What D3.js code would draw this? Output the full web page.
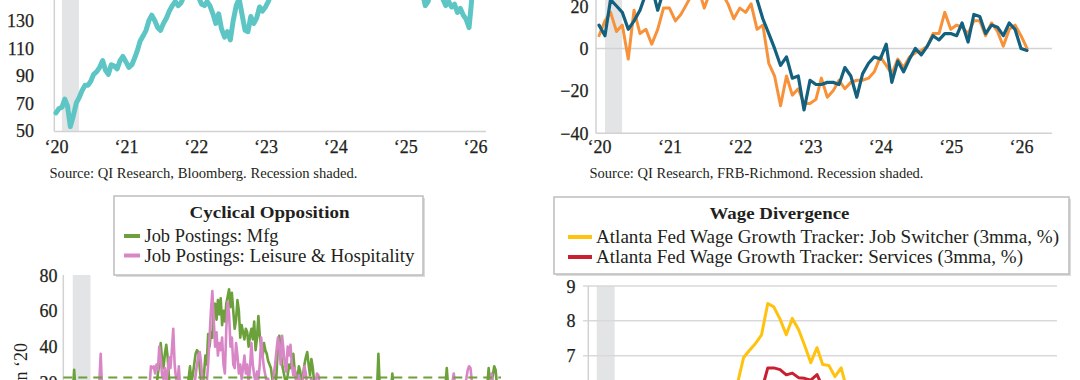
<!DOCTYPE html>
<html><head><meta charset="utf-8">
<script src="https://cdn.jsdelivr.net/npm/d3@7"></script>
<style>
html,body{margin:0;padding:0;background:#fff;overflow:hidden}
svg{display:block}
text{font-family:"Liberation Serif","Times New Roman",serif;fill:#231f20}
</style>
</head><body>
<svg id="c" width="1080" height="380"></svg>
<script>
// ---------- DATA ----------
const recession = ["2020-02-01", "2020-04-30"];
const yearTicks = ["2020", "2021", "2022", "2023", "2024", "2025", "2026"];
const yearLabels = ["\u201820", "\u201821", "\u201822", "\u201823", "\u201824", "\u201825", "\u201826"];

// Top-left: semi-monthly (1st & 16th) from Jan 2020
const tlValues = [63,66,67,73,68,53,61,70,74,79,83,83,86,91,93,96,101,94,91,98,97,95,101,104,100,96,98,103,108,115,119,123,130,134,130,125,123,128,132,137,141,144,141,143,
148,152,155,158,152,147,142,141,144,141,135,128,135,124,118,122,116,130,141,146,134,123,122,133,128,132,140,137,140,144,
150,158,162,170,168,175,182,190,198,205,200,195,205,215,222,218,230,238,226,215,208,220,232,240,248,256,262,270,284,300,295,278,272,285,290,300,295,288,270,262,275,282,268,250,240,232,225,210,190,175,165,158,150,
141,144,152,160,158,152,146,141,144,140,142,136,139,134,131,125,147];
const tlTicks = [50, 70, 90, 110, 130];
const tlSource = "Source: QI Research, Bloomberg. Recession shaded.";

// Top-right: monthly from Jan 2020
const trBlue = [11,6,23,20,17,9,13,18,26,29,18,27,28,30,32,35,33,31,36,34,33,30,31,28,30,27,29,23,14,7,0,-8,-4,-14,-13,-29,-15,-17,-17,-16,-16,-17,-9,-13,-23,-12,-7,-4,-5,2,-16,-6,-11,-5,0,-3,1,6,4,7,7,6,12,3,16,15,7,11,10,6,12,9,0,-1];
const trOrange = [6,13,17,8,11,-5,18,7,9,2,9,19,19,13,16,21,26,28,19,27,29,26,21,14,19,17,21,9,11,-7,-13,-27,-13,-22,-19,-26,-26,-24,-14,-23,-20,-15,-19,-16,-15,-15,-14,-11,-4,-8,-12,-5,-9,-4,-2,-1,1,7,7,17,9,11,10,7,13,13,6,12,8,1,9,11,6,0];
const trTicks = [-40, -20, 0, 20];
const trSource = "Source: QI Research, FRB-Richmond. Recession shaded.";

// Bottom-left: weekly from 1 Feb 2020
const blTitle = "Cyclical Opposition";
const blNames = ["Job Postings: Mfg", "Job Postings: Leisure & Hospitality"];
const blMfg = [14,27,15,12,10,9,11,12,10,11, 12,13,11,10,12,14,13,12,11,12, 13,12,11,13,14,12,11,10,12,13, 12,11,12,13,14,13,12,14,15,13,
12,13,14,12,13,15,14,13,14,15, 14,16,15,14,15,16,15,14,16,17, 18,25,30,42,33,28,36,41,34,22, 16,15,14,16,15,14,16,15,17,16,
15,17,18,22,29,20,24,30,36,38, 37,28,20,18,24,35,30,47,40,48, 45,62,64,55,66,58,67,52,60,54, 64,68,72,62,70,60,50,55,66,60,
45,52,48,44,50,48,40,46,50,44, 54,38,45,57,46,40,34,42,38,36, 32,30,28,22,18,16,25,40,46,38, 30,26,22,20,24,30,28,32,36,27,
24,22,29,26,20,24,30,34,37,30, 24,33,28,20,16,14,15,13,14,15, 14,13,15,14,13,12,14,15,13,14, 15,14,13,12,14,13,15,14,13,12,
13,14,15,13,12,14,13,15,14,13, 12,14,13,15,14,13,12,14,16,36, 17,15,14,13,14,15,13,14,16,25, 15,14,13,12,13,14,13,12,14,13,
12,13,14,13,12,14,13,12,13,14, 13,12,14,13,12,13,14,13,12,14, 13,14,15,14,13,15,16,18,28,17, 15,14,16,15,14,13,15,14,13,14,
15,14,13,15,16,14,13,14,15,14, 13,14,15,14,13,15,16,18,28,19, 20,24,29,27,18];
const blLeisure = [12,10,11,9,8,7,8,9,10,9, 10,11,10,12,11,10,12,13,14,20, 36,16,12,11,12,13,12,11,13,12, 11,12,13,12,11,12,13,14,12,13,
12,14,13,12,13,14,15,13,14,15, 14,15,16,15,17,18,29,28,29,25, 30,27,40,33,24,22,28,20,26,34, 28,38,50,30,22,20,29,16,15,14,
15,14,16,15,14,16,15,17,24,30, 35,37,30,20,18,16,20,30,45,60, 71,55,40,48,35,42,38,45,30,25, 50,65,58,40,45,30,28,42,35,25,
30,22,28,35,25,30,20,28,42,30, 24,20,26,22,30,45,35,28,24,20, 22,18,20,17,24,30,38,45,40,30, 46,38,30,26,40,35,41,30,24,28,
20,18,24,20,17,22,29,25,18,16, 20,22,18,16,20,25,24,18,15,14, 13,12,14,13,12,11,13,12,11,12, 13,12,11,12,13,12,11,12,13,12,
11,12,13,12,11,12,13,12,11,12, 13,12,11,12,13,12,11,12,13,12, 11,12,13,12,11,12,13,12,13,12, 13,12,11,12,13,12,11,12,13,12,
13,12,11,12,13,12,11,12,13,14, 13,12,14,13,12,13,14,13,12,14, 13,14,13,14,15,14,13,14,15,16, 17,18,20,25,18,16,15,14,15,16,
17,18,22,27,29,28,20,16,15,14, 15,14,15,16,15,14,16,15,17,18, 25,19,16,15,14];
const blAvg = 22.8;
const blTicks = [20, 40, 60, 80];
const blAxisTitle = "% Chg. vs. Jun \u201820";

// Bottom-right: monthly from Jan 2020
const brTitle = "Wage Divergence";
const brNames = ["Atlanta Fed Wage Growth Tracker: Job Switcher (3mma, %)", "Atlanta Fed Wage Growth Tracker: Services (3mma, %)"];
const brSwitcher = [4.5,4.6,4.4,4.0,3.9,3.8,3.9,3.9,3.8,3.9,4.0,4.1, 4.2,4.1,4.0,4.0,4.1,4.3,4.5,4.8,5.1,5.3,5.6,5.9,
6.2,6.95,7.15,7.35,7.6,8.5,8.4,8.05,7.6,8.07,7.75,7.3, 6.8,7.23,6.75,6.72,6.4,6.65,6.0,5.8,5.6,5.7,5.4,5.3,
5.2,5.1,5.0,5.2,5.1,4.9,4.8,4.9,4.8,4.7,4.9,4.8, 4.8,4.6,4.5,4.4,4.4,4.5,4.3,4.2,4.3,4.1,4.2,4.0];
const brServices = [3.9,3.9,3.8,3.7,3.6,3.5,3.5,3.5,3.4,3.4,3.4,3.4, 3.3,3.2,3.1,3.1,3.2,3.3,3.4,3.6,3.9,4.2,4.5,4.9,
5.2,5.5,5.8,6.0,6.0,6.65,6.65,6.6,6.45,6.5,6.37,6.35, 6.3,6.46,6.1,6.0,5.9,5.8,5.6,5.5,5.4,5.3,5.2,5.1,
5.0,4.9,4.9,4.8,4.7,4.7,4.6,4.6,4.5,4.5,4.4,4.4, 4.3,4.3,4.2,4.2,4.1,4.2,4.1,4.0,4.1,4.0,4.0,3.9];
const brTicks = [6, 7, 8, 9];

// ---------- STYLE ----------
const C = {teal:"#5dc6c5", orange:"#f7923a", blue:"#14607f", green:"#6ba03b", pink:"#d886c6",
  yellow:"#ffc20e", red:"#c8202f", shade:"#e3e4e6", axis:"#d2d2d2", grid:"#d9d9d9"};
const TICK_FS = 18;

const svg = d3.select("#c");
const D = s => new Date(s + "T00:00:00");
const yearDates = yearTicks.map(y => D(y + "-01-01"));
const dom = [D("2020-01-01"), D("2026-01-01")];

function leftLabels(g, y, ticks, xRight) {
  const ax = d3.axisLeft(y).tickValues(ticks).tickSize(0).tickPadding(0).tickFormat(d3.format("d"));
  const a = g.append("g").attr("transform", `translate(${xRight},0)`).call(ax);
  a.select(".domain").remove();
  a.selectAll("text").attr("font-size", TICK_FS).attr("font-family", null).attr("fill", "#231f20")
    .attr("stroke", "#231f20").attr("stroke-width", 0.25).attr("dy", "0.34em");
}
function yearAxis(g, x, yLine, yText) {
  const ax = d3.axisBottom(x).tickValues(yearDates).tickSize(0).tickFormat((d, i) => yearLabels[i]);
  const a = g.append("g").attr("transform", `translate(0,${yLine})`).call(ax);
  a.select(".domain").remove();
  a.selectAll("text").attr("font-size", TICK_FS).attr("font-family", null).attr("fill", "#231f20")
    .attr("stroke", "#231f20").attr("stroke-width", 0.25).attr("y", yText - yLine).attr("dy", "0.34em");
}
function shade(g, x, y0, y1) {
  g.append("rect").attr("x", x(D(recession[0]))).attr("width", x(D(recession[1])) - x(D(recession[0])))
    .attr("y", y0).attr("height", y1 - y0).attr("fill", C.shade);
}
function line(g, x, y, dates, vals, color, w) {
  g.append("path").datum(vals.map((v, i) => [dates[i], v]))
    .attr("fill", "none").attr("stroke", color).attr("stroke-width", w)
    .attr("stroke-linejoin", "round").attr("stroke-linecap", "round")
    .attr("d", d3.line().x(d => x(d[0])).y(d => y(d[1])));
}
function hline(g, x1, x2, y, color, w) {
  g.append("line").attr("x1", x1).attr("x2", x2).attr("y1", y).attr("y2", y).attr("stroke", color).attr("stroke-width", w);
}
function vline(g, x, y1, y2, color, w) {
  g.append("line").attr("x1", x).attr("x2", x).attr("y1", y1).attr("y2", y2).attr("stroke", color).attr("stroke-width", w);
}
function legendBox(g, x0, y0, x1, y1, title, titleCx, titleY, titleLen, items) {
  g.append("rect").attr("x", x0 + 2).attr("y", y0 + 2).attr("width", x1 - x0).attr("height", y1 - y0).attr("fill", "#dcdcdc");
  g.append("rect").attr("x", x0).attr("y", y0).attr("width", x1 - x0).attr("height", y1 - y0)
    .attr("fill", "#fff").attr("stroke", "#bdbdbd").attr("stroke-width", 1.5);
  g.append("text").attr("x", titleCx).attr("y", titleY).attr("dy", "0.34em").attr("text-anchor", "middle")
    .attr("font-size", 17).attr("font-weight", "bold").attr("textLength", titleLen).attr("lengthAdjust", "spacingAndGlyphs").text(title);
  items.forEach(it => {
    g.append("line").attr("x1", it.sx0).attr("x2", it.sx1).attr("y1", it.y).attr("y2", it.y)
      .attr("stroke", it.color).attr("stroke-width", 4);
    g.append("text").attr("x", it.tx).attr("y", it.y).attr("dy", "0.34em").attr("font-size", 18)
      .attr("textLength", it.len).attr("lengthAdjust", "spacingAndGlyphs").text(it.text);
  });
}

// ---------- TOP-LEFT ----------
{
  const g = svg.append("g");
  const x = d3.scaleTime().domain(dom).range([56, 475]);
  const y = d3.scaleLinear().domain([50, 130]).range([130.7, 20.7]);
  shade(g, x, 0, 131.5);
  vline(g, 54.3, 0, 131.5, C.axis, 1.5);
  hline(g, 54.3, 486, 131.5, C.axis, 1.5);
  const dates = tlValues.map((v, i) => new Date(2020, Math.floor(i / 2), i % 2 ? 16 : 1));
  line(g, x, y, dates, tlValues, C.teal, 5);
  leftLabels(g, y, tlTicks, 34);
  yearAxis(g, x, 131.5, 147);
  g.append("text").attr("x", 49.5).attr("y", 173.5).attr("dy", "0.34em").attr("font-size", 14)
    .attr("textLength", 308).attr("lengthAdjust", "spacingAndGlyphs").text(tlSource);
}

// ---------- TOP-RIGHT ----------
{
  const g = svg.append("g");
  const x = d3.scaleTime().domain(dom).range([599, 1021]);
  const y = d3.scaleLinear().domain([-40, 20]).range([133.3, 6]);
  shade(g, x, 0, 133.3);
  hline(g, 596, 1052, y(0), C.axis, 1.5);
  vline(g, 596, 0, 133.3, C.axis, 1.5);
  hline(g, 596, 1052, 133.3, C.axis, 1.5);
  const dates = trBlue.map((v, i) => new Date(2020, i, 1));
  line(g, x, y, dates, trOrange, C.orange, 3);
  line(g, x, y, dates, trBlue, C.blue, 3.2);
  leftLabels(g, y, trTicks, 588.5);
  yearAxis(g, x, 133.3, 147);
  g.append("text").attr("x", 589.5).attr("y", 173.5).attr("dy", "0.34em").attr("font-size", 14)
    .attr("textLength", 334).attr("lengthAdjust", "spacingAndGlyphs").text(trSource);
}

// ---------- BOTTOM-LEFT ----------
{
  const g = svg.append("g");
  const x = d3.scaleTime().domain(dom).range([66.6, 503.6]);
  const y = d3.scaleLinear().domain([20, 80]).range([382.4, 275]);
  shade(g, x, 275, 400);
  vline(g, 63.3, 275, 400, C.axis, 1.5);
  const start = D("2020-02-01");
  const dates = blMfg.map((v, i) => d3.timeDay.offset(start, 7 * i));
  line(g, x, y, dates, blMfg, C.green, 2.6);
  line(g, x, y, dates, blLeisure, C.pink, 2.6);
  g.append("line").attr("x1", 63.3).attr("x2", 501).attr("y1", y(blAvg)).attr("y2", y(blAvg))
    .attr("stroke", C.green).attr("stroke-width", 2).attr("stroke-dasharray", "9,6");
  leftLabels(g, y, blTicks, 57.5);
  g.append("text").attr("transform", "translate(21,343) rotate(-90)").attr("text-anchor", "end")
    .attr("dy", "0.34em").attr("font-size", TICK_FS).text(blAxisTitle);
  legendBox(g, 114, 196, 423, 275, blTitle, 269.5, 212.5, 160, [
    {sx0: 124, sx1: 140, y: 236, color: C.green, tx: 144.5, len: 134, text: blNames[0]},
    {sx0: 124, sx1: 140, y: 255.5, color: C.pink, tx: 144.5, len: 270, text: blNames[1]}
  ]);
}

// ---------- BOTTOM-RIGHT ----------
{
  const g = svg.append("g");
  const x = d3.scaleTime().domain(dom).range([590.5, 1031.1]);
  const y = d3.scaleLinear().domain([7, 9]).range([355.7, 286]);
  shade(g, x, 286, 400);
  brTicks.forEach(t => hline(g, 583, 1057, y(t), C.grid, 1.5));
  vline(g, 588.3, 286, 400, C.axis, 1.5);
  const dates = brSwitcher.map((v, i) => new Date(2020, i, 1));
  line(g, x, y, dates, brSwitcher, C.yellow, 3);
  line(g, x, y, dates, brServices, C.red, 3);
  leftLabels(g, y, brTicks, 575.5);
  legendBox(g, 554, 197, 1069, 274, brTitle, 779.5, 213.5, 140, [
    {sx0: 568, sx1: 592, y: 237, color: C.yellow, tx: 596, len: 463, text: brNames[0]},
    {sx0: 568, sx1: 592, y: 257, color: C.red, tx: 596, len: 427, text: brNames[1]}
  ]);
}
</script>
</body></html>
